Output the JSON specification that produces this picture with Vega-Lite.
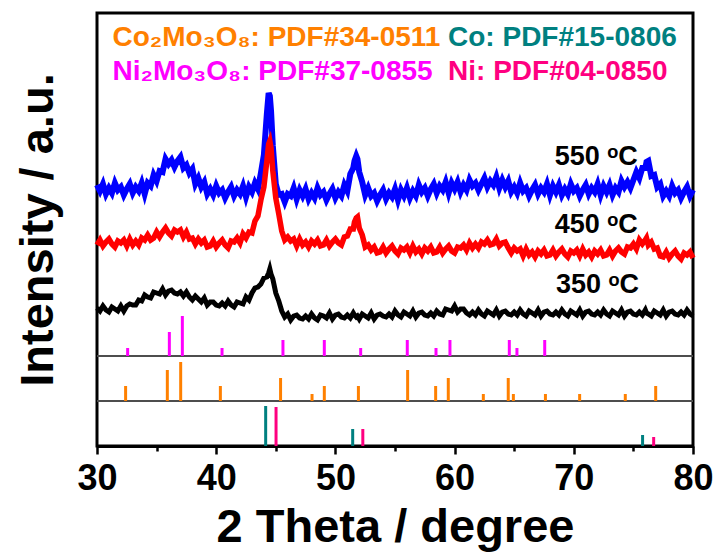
{
  "$schema": "https://vega.github.io/schema/vega-lite/v6.json",
  "autosize": {"type": "none"},
  "width": 596,
  "height": 433,
  "padding": {"left": 97, "top": 13, "right": 25, "bottom": 109},
  "background": "white",
  "config": {"view": {"stroke": "black", "strokeWidth": 3}, "axis": {"grid": false}},
  "datasets": {
    "xrd": [
      {"x":30,"b":138,"r":201,"u":261},{"x":30.25,"b":135,"r":206,"u":255},{"x":30.5,"b":140,"r":200,"u":262},{"x":30.75,"b":136,"r":204,"u":252},
      {"x":31,"b":134,"r":207,"u":258},{"x":31.25,"b":139,"r":202,"u":253},{"x":31.5,"b":137,"r":199,"u":263},{"x":31.75,"b":135,"r":205,"u":256},
      {"x":32,"b":140,"r":203,"u":259},{"x":32.25,"b":135,"r":206,"u":251},{"x":32.5,"b":140,"r":200,"u":257},{"x":32.75,"b":142,"r":207,"u":262},
      {"x":33,"b":141,"r":201,"u":253},{"x":33.25,"b":141,"r":205,"u":259},{"x":33.5,"b":146,"r":201,"u":255},{"x":33.75,"b":145,"r":208,"u":263},
      {"x":34,"b":151,"r":206,"u":252},{"x":34.25,"b":149,"r":211,"u":263},{"x":34.5,"b":148,"r":206,"u":260},{"x":34.75,"b":154,"r":208,"u":271},
      {"x":35,"b":153,"r":214,"u":265},{"x":35.25,"b":152,"r":209,"u":275},{"x":35.5,"b":157,"r":214,"u":274},{"x":35.75,"b":151,"r":218,"u":287},
      {"x":36,"b":155,"r":213,"u":282},{"x":36.25,"b":156,"r":210,"u":286},{"x":36.5,"b":153,"r":216,"u":279},{"x":36.75,"b":152,"r":214,"u":285},
      {"x":37,"b":154,"r":216,"u":289},{"x":37.25,"b":150,"r":209,"u":278},{"x":37.5,"b":154,"r":214,"u":281},{"x":37.75,"b":149,"r":207,"u":273},
      {"x":38,"b":146,"r":208,"u":277},{"x":38.25,"b":150,"r":202,"u":262},{"x":38.5,"b":147,"r":207,"u":268},{"x":38.75,"b":144,"r":203,"u":259},
      {"x":39,"b":148,"r":206,"u":264},{"x":39.25,"b":141,"r":199,"u":252},{"x":39.5,"b":144,"r":200,"u":257},{"x":39.75,"b":144,"r":205,"u":251},
      {"x":40,"b":141,"r":199,"u":260},{"x":40.25,"b":140,"r":203,"u":253},{"x":40.5,"b":143,"r":206,"u":256},{"x":40.75,"b":140,"r":201,"u":248},
      {"x":41,"b":145,"r":198,"u":254},{"x":41.25,"b":141,"r":205,"u":259},{"x":41.5,"b":139,"r":204,"u":250},{"x":41.75,"b":144,"r":208,"u":256},
      {"x":42,"b":143,"r":203,"u":252},{"x":42.25,"b":142,"r":212,"u":260},{"x":42.5,"b":149,"r":208,"u":249},{"x":42.75,"b":146,"r":214,"u":259},
      {"x":43,"b":153,"r":213,"u":254},{"x":43.25,"b":158,"r":225,"u":263},{"x":43.5,"b":159,"r":230,"u":257},{"x":43.75,"b":162,"r":246,"u":273},
      {"x":44,"b":168,"r":259,"u":291},{"x":44.25,"b":169,"r":285,"u":332},{"x":44.4,"b":173,"r":302,"u":353},{"x":44.5,"b":177,"r":305,"u":350},
      {"x":44.6,"b":172,"r":298,"u":335},{"x":44.75,"b":167,"r":275,"u":300},{"x":45,"b":153,"r":248,"u":262},{"x":45.25,"b":145,"r":232,"u":251},
      {"x":45.5,"b":135,"r":215,"u":252},{"x":45.75,"b":129,"r":206,"u":244},{"x":46,"b":132,"r":209,"u":252},{"x":46.25,"b":126,"r":205,"u":250},
      {"x":46.5,"b":130,"r":207,"u":258},{"x":46.75,"b":131,"r":200,"u":247},{"x":47,"b":128,"r":207,"u":256},{"x":47.25,"b":127,"r":201,"u":250},
      {"x":47.5,"b":130,"r":204,"u":257},{"x":47.75,"b":127,"r":199,"u":247},{"x":48,"b":132,"r":205,"u":253},{"x":48.25,"b":128,"r":202,"u":248},
      {"x":48.5,"b":126,"r":206,"u":258},{"x":48.75,"b":131,"r":200,"u":251},{"x":49,"b":130,"r":201,"u":254},{"x":49.25,"b":128,"r":206,"u":246},
      {"x":49.5,"b":133,"r":200,"u":252},{"x":49.75,"b":127,"r":204,"u":257},{"x":50,"b":131,"r":207,"u":248},{"x":50.25,"b":132,"r":203,"u":254},
      {"x":50.5,"b":129,"r":201,"u":250},{"x":50.75,"b":128,"r":209,"u":261},{"x":51,"b":131,"r":210,"u":255},{"x":51.25,"b":128,"r":217,"u":272},
      {"x":51.5,"b":133,"r":217,"u":278},{"x":51.6,"b":131,"r":224,"u":285},{"x":51.75,"b":129,"r":228,"u":290},{"x":51.85,"b":130,"r":229,"u":287},
      {"x":52,"b":127,"r":218,"u":274},{"x":52.25,"b":132,"r":211,"u":264},{"x":52.5,"b":130,"r":199,"u":251},{"x":52.75,"b":128,"r":201,"u":258},
      {"x":53,"b":133,"r":196,"u":250},{"x":53.25,"b":127,"r":199,"u":253},{"x":53.5,"b":131,"r":193,"u":245},{"x":53.75,"b":132,"r":194,"u":251},
      {"x":54,"b":130,"r":199,"u":256},{"x":54.25,"b":129,"r":193,"u":247},{"x":54.5,"b":132,"r":197,"u":253},{"x":54.75,"b":129,"r":200,"u":249},
      {"x":55,"b":135,"r":195,"u":257},{"x":55.25,"b":131,"r":192,"u":246},{"x":55.5,"b":129,"r":198,"u":256},{"x":55.75,"b":134,"r":196,"u":250},
      {"x":56,"b":132,"r":199,"u":258},{"x":56.25,"b":130,"r":193,"u":248},{"x":56.5,"b":135,"r":200,"u":255},{"x":56.75,"b":129,"r":194,"u":250},
      {"x":57,"b":133,"r":197,"u":261},{"x":57.25,"b":134,"r":192,"u":254},{"x":57.5,"b":131,"r":198,"u":258},{"x":57.75,"b":130,"r":195,"u":250},
      {"x":58,"b":133,"r":199,"u":257},{"x":58.25,"b":130,"r":193,"u":262},{"x":58.5,"b":135,"r":194,"u":253},{"x":58.75,"b":132,"r":199,"u":260},
      {"x":59,"b":131,"r":193,"u":256},{"x":59.25,"b":137,"r":197,"u":264},{"x":59.5,"b":136,"r":200,"u":253},{"x":59.75,"b":135,"r":195,"u":263},
      {"x":60,"b":140,"r":193,"u":257},{"x":60.25,"b":134,"r":199,"u":264},{"x":60.5,"b":137,"r":198,"u":254},{"x":60.75,"b":137,"r":201,"u":261},
      {"x":61,"b":133,"r":196,"u":256},{"x":61.25,"b":131,"r":203,"u":266},{"x":61.5,"b":134,"r":198,"u":260},{"x":61.75,"b":131,"r":202,"u":263},
      {"x":62,"b":136,"r":198,"u":256},{"x":62.25,"b":132,"r":204,"u":262},{"x":62.5,"b":130,"r":202,"u":268},{"x":62.75,"b":135,"r":206,"u":259},
      {"x":63,"b":133,"r":201,"u":265},{"x":63.25,"b":131,"r":202,"u":261},{"x":63.5,"b":136,"r":207,"u":269},{"x":63.75,"b":130,"r":200,"u":258},
      {"x":64,"b":134,"r":203,"u":266},{"x":64.25,"b":135,"r":204,"u":259},{"x":64.5,"b":132,"r":198,"u":265},{"x":64.75,"b":131,"r":193,"u":254},
      {"x":65,"b":134,"r":198,"u":259},{"x":65.25,"b":131,"r":195,"u":253},{"x":65.5,"b":136,"r":197,"u":263},{"x":65.75,"b":132,"r":190,"u":255},
      {"x":66,"b":130,"r":197,"u":258},{"x":66.25,"b":135,"r":191,"u":250},{"x":66.5,"b":133,"r":194,"u":256},{"x":66.75,"b":131,"r":189,"u":261},
      {"x":67,"b":136,"r":195,"u":252},{"x":67.25,"b":130,"r":192,"u":258},{"x":67.5,"b":134,"r":196,"u":254},{"x":67.75,"b":135,"r":190,"u":262},
      {"x":68,"b":132,"r":191,"u":251},{"x":68.25,"b":131,"r":196,"u":260},{"x":68.5,"b":134,"r":190,"u":254},{"x":68.75,"b":131,"r":194,"u":261},
      {"x":69,"b":136,"r":197,"u":251},{"x":69.25,"b":132,"r":192,"u":257},{"x":69.5,"b":130,"r":189,"u":252},{"x":69.75,"b":135,"r":195,"u":262},
      {"x":70,"b":133,"r":193,"u":255},{"x":70.25,"b":131,"r":196,"u":258},{"x":70.5,"b":136,"r":190,"u":250},{"x":70.75,"b":130,"r":197,"u":256},
      {"x":71,"b":134,"r":191,"u":261},{"x":71.25,"b":135,"r":194,"u":252},{"x":71.5,"b":132,"r":189,"u":258},{"x":71.75,"b":131,"r":195,"u":254},
      {"x":72,"b":134,"r":192,"u":262},{"x":72.25,"b":131,"r":196,"u":251},{"x":72.5,"b":136,"r":190,"u":260},{"x":72.75,"b":132,"r":191,"u":254},
      {"x":73,"b":130,"r":196,"u":261},{"x":73.25,"b":135,"r":190,"u":251},{"x":73.5,"b":133,"r":195,"u":258},{"x":73.75,"b":131,"r":198,"u":254},
      {"x":74,"b":136,"r":194,"u":265},{"x":74.25,"b":130,"r":192,"u":259},{"x":74.5,"b":134,"r":199,"u":264},{"x":74.75,"b":135,"r":198,"u":258},
      {"x":75,"b":132,"r":202,"u":266},{"x":75.25,"b":131,"r":197,"u":274},{"x":75.5,"b":134,"r":206,"u":268},{"x":75.75,"b":131,"r":202,"u":278},
      {"x":76,"b":136,"r":206,"u":278},{"x":76.1,"b":133,"r":208,"u":284},{"x":76.25,"b":132,"r":201,"u":285},{"x":76.5,"b":130,"r":204,"u":270},
      {"x":76.75,"b":135,"r":197,"u":271},{"x":77,"b":133,"r":198,"u":259},{"x":77.25,"b":131,"r":190,"u":262},{"x":77.5,"b":136,"r":189,"u":250},
      {"x":77.75,"b":130,"r":194,"u":255},{"x":78,"b":134,"r":188,"u":250},{"x":78.25,"b":135,"r":192,"u":260},{"x":78.5,"b":132,"r":195,"u":253},
      {"x":78.75,"b":131,"r":190,"u":256},{"x":79,"b":134,"r":187,"u":248},{"x":79.25,"b":131,"r":193,"u":254},{"x":79.5,"b":136,"r":191,"u":259},
      {"x":79.75,"b":132,"r":194,"u":250},{"x":80,"b":130,"r":188,"u":256}
    ],
    "sticks": [
      {"p":"Ni2Mo3O8","x":32.57,"lo":90,"hi":98},{"p":"Ni2Mo3O8","x":36.07,"lo":90,"hi":114},{"p":"Ni2Mo3O8","x":37.16,"lo":90,"hi":130},
      {"p":"Ni2Mo3O8","x":40.49,"lo":90,"hi":98},{"p":"Ni2Mo3O8","x":45.6,"lo":90,"hi":106},{"p":"Ni2Mo3O8","x":49.07,"lo":90,"hi":106},
      {"p":"Ni2Mo3O8","x":52.12,"lo":90,"hi":98},{"p":"Ni2Mo3O8","x":56.03,"lo":90,"hi":106},{"p":"Ni2Mo3O8","x":58.44,"lo":90,"hi":98},
      {"p":"Ni2Mo3O8","x":59.61,"lo":90,"hi":106},{"p":"Ni2Mo3O8","x":64.59,"lo":90,"hi":106},{"p":"Ni2Mo3O8","x":65.23,"lo":90,"hi":98},
      {"p":"Ni2Mo3O8","x":67.56,"lo":90,"hi":106},
      {"p":"Co2Mo3O8","x":32.4,"lo":45,"hi":60},{"p":"Co2Mo3O8","x":35.9,"lo":45,"hi":76},{"p":"Co2Mo3O8","x":37.02,"lo":45,"hi":84},
      {"p":"Co2Mo3O8","x":40.35,"lo":45,"hi":60},{"p":"Co2Mo3O8","x":45.4,"lo":45,"hi":68},{"p":"Co2Mo3O8","x":48.04,"lo":45,"hi":52},
      {"p":"Co2Mo3O8","x":49.07,"lo":45,"hi":60},{"p":"Co2Mo3O8","x":51.93,"lo":45,"hi":60},{"p":"Co2Mo3O8","x":56.06,"lo":45,"hi":76},
      {"p":"Co2Mo3O8","x":58.41,"lo":45,"hi":60},{"p":"Co2Mo3O8","x":59.47,"lo":45,"hi":68},{"p":"Co2Mo3O8","x":62.41,"lo":45,"hi":52},
      {"p":"Co2Mo3O8","x":64.5,"lo":45,"hi":68},{"p":"Co2Mo3O8","x":64.93,"lo":45,"hi":52},{"p":"Co2Mo3O8","x":67.62,"lo":45,"hi":52},
      {"p":"Co2Mo3O8","x":70.49,"lo":45,"hi":52},{"p":"Co2Mo3O8","x":74.32,"lo":45,"hi":52},{"p":"Co2Mo3O8","x":76.87,"lo":45,"hi":60},
      {"p":"Co","x":44.15,"lo":0,"hi":40},{"p":"Co","x":51.45,"lo":0,"hi":17},{"p":"Co","x":75.77,"lo":0,"hi":11},
      {"p":"Ni","x":45.02,"lo":0,"hi":39},{"p":"Ni","x":52.3,"lo":0,"hi":17},{"p":"Ni","x":76.7,"lo":0,"hi":9}
    ],
    "seps": [{"s":45},{"s":90}],
    "legendText": [
      {"t":"Co₂Mo₃O₈: PDF#34-0511","x":31.3,"y":400,"c":"Co2Mo3O8"},
      {"t":"Co: PDF#15-0806","x":59.45,"y":400,"c":"Co"},
      {"t":"Ni₂Mo₃O₈: PDF#37-0855","x":31.3,"y":366,"c":"Ni2Mo3O8"},
      {"t":"Ni: PDF#04-0850","x":59.45,"y":366,"c":"Ni"}
    ],
    "temps": [
      {"t":"550 ᵒC","x":68.4,"y":281},
      {"t":"450 ᵒC","x":68.4,"y":213},
      {"t":"350 ᵒC","x":68.5,"y":153}
    ]
  },
  "layer": [
    {
      "data": {"name": "seps"},
      "mark": {"type": "rule", "stroke": "#4d4d4d", "strokeWidth": 2},
      "encoding": {
        "y": {"field": "s", "type": "quantitative", "scale": {"domain": [0, 433], "nice": false, "zero": true},
              "axis": {"title": "Intensity / a.u.", "labels": false, "ticks": false, "domain": false, "grid": false,
                       "titleFont": "Liberation Sans", "titleFontWeight": "bold", "titleFontSize": 47, "titleColor": "black", "titlePadding": 35}}
      }
    },
    {
      "data": {"name": "sticks"},
      "mark": {"type": "rule", "strokeWidth": 3},
      "encoding": {
        "x": {"field": "x", "type": "quantitative", "scale": {"domain": [30, 80], "nice": false, "zero": false},
              "axis": {"title": "2 Theta / degree", "values": [30,35,40,45,50,55,60,65,70,75,80],
                       "labelExpr": "datum.value % 10 === 0 ? datum.label : ''",
                       "tickSize": {"condition": {"test": "datum.value % 10 === 0", "value": 8}, "value": 5},
                       "tickWidth": 2.5, "tickColor": "black", "domainColor": "black", "domainWidth": 3,
                       "labelFont": "Liberation Sans", "labelFontWeight": "bold", "labelFontSize": 36, "labelColor": "black",
                       "labelPadding": 7, "labelFlush": false, "labelOverlap": false,
                       "titleFont": "Liberation Sans", "titleFontWeight": "bold", "titleFontSize": 47, "titleColor": "black", "titlePadding": 8}},
        "y": {"field": "lo", "type": "quantitative"},
        "y2": {"field": "hi"},
        "color": {"field": "p", "type": "nominal", "legend": null,
                  "scale": {"domain": ["Co2Mo3O8", "Co", "Ni2Mo3O8", "Ni"], "range": ["#FF8000", "#008080", "#FF00FF", "#FF0080"]}}
      }
    },
    {
      "data": {"name": "xrd"},
      "mark": {"type": "line", "stroke": "#0000FF", "strokeWidth": 6},
      "encoding": {
        "x": {"field": "x", "type": "quantitative"},
        "y": {"field": "u", "type": "quantitative"}
      }
    },
    {
      "data": {"name": "xrd"},
      "mark": {"type": "line", "stroke": "#FF0000", "strokeWidth": 5.5},
      "encoding": {
        "x": {"field": "x", "type": "quantitative"},
        "y": {"field": "r", "type": "quantitative"}
      }
    },
    {
      "data": {"name": "xrd"},
      "mark": {"type": "line", "stroke": "#000000", "strokeWidth": 5},
      "encoding": {
        "x": {"field": "x", "type": "quantitative"},
        "y": {"field": "b", "type": "quantitative"}
      }
    },
    {
      "data": {"name": "legendText"},
      "mark": {"type": "text", "font": "Liberation Sans", "fontWeight": "bold", "fontSize": 28, "align": "left", "baseline": "alphabetic"},
      "encoding": {
        "x": {"field": "x", "type": "quantitative"},
        "y": {"field": "y", "type": "quantitative"},
        "text": {"field": "t"},
        "color": {"field": "c", "type": "nominal", "legend": null}
      }
    },
    {
      "data": {"name": "temps"},
      "mark": {"type": "text", "font": "Liberation Sans", "fontWeight": "bold", "fontSize": 27, "align": "left", "baseline": "alphabetic", "color": "black"},
      "encoding": {
        "x": {"field": "x", "type": "quantitative"},
        "y": {"field": "y", "type": "quantitative"},
        "text": {"field": "t"}
      }
    }
  ]
}
